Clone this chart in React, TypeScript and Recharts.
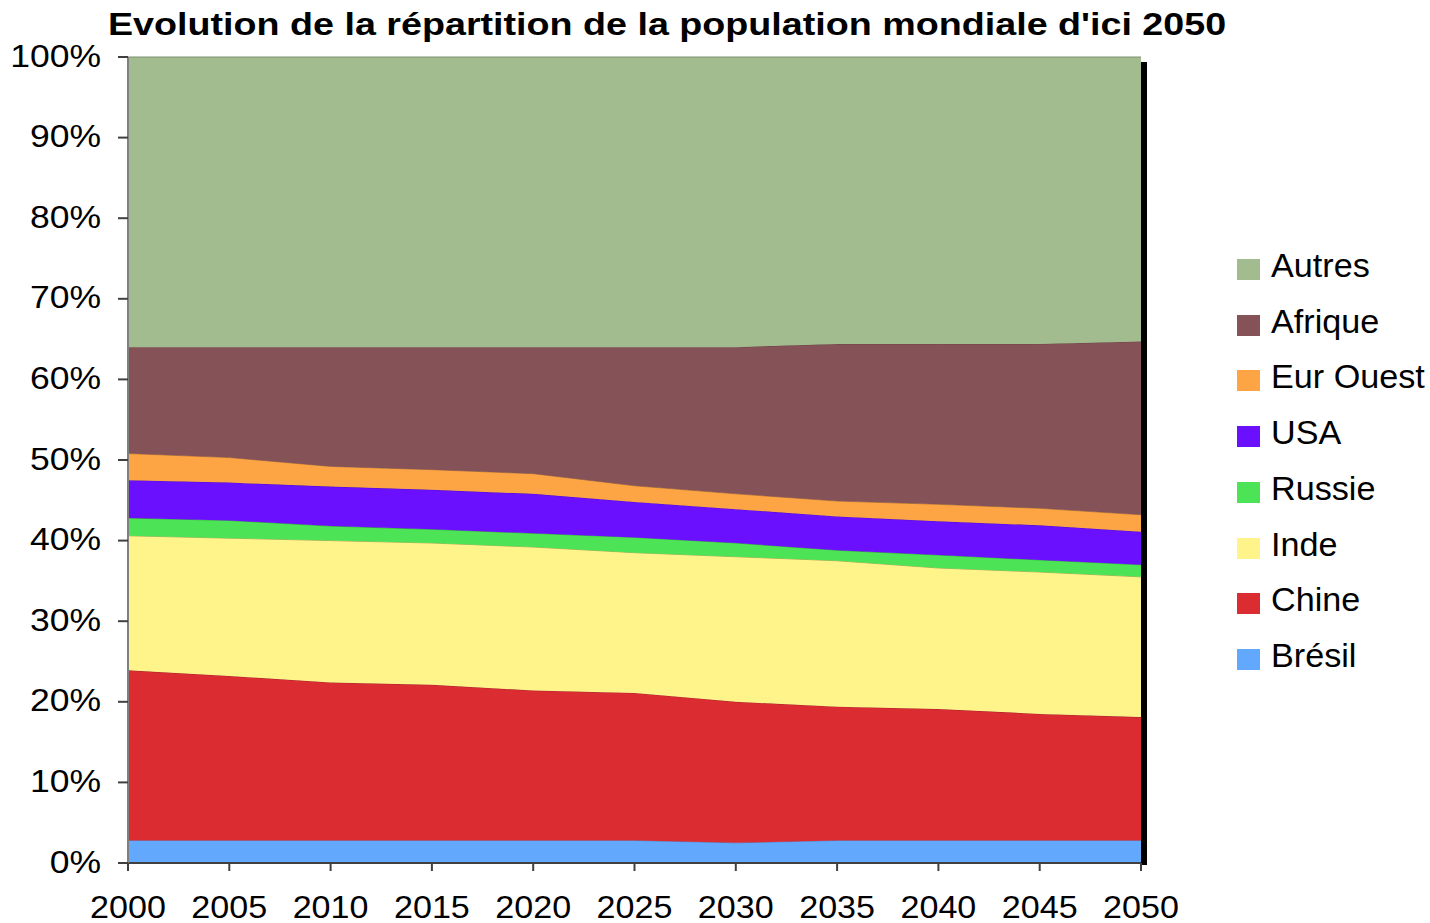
import React from 'react'
import { Area, AreaChart, Legend, ReferenceLine, XAxis, YAxis } from 'recharts'

const years = [2000, 2005, 2010, 2015, 2020, 2025, 2030, 2035, 2040, 2045, 2050]
const bresil = [2.8, 2.8, 2.8, 2.8, 2.8, 2.8, 2.5, 2.8, 2.8, 2.8, 2.8]
const chine = [21.1, 20.4, 19.6, 19.3, 18.6, 18.3, 17.5, 16.6, 16.3, 15.7, 15.3]
const inde = [16.7, 17.1, 17.6, 17.6, 17.8, 17.4, 18.0, 18.1, 17.5, 17.6, 17.4]
const russie = [2.2, 2.2, 1.8, 1.7, 1.7, 1.9, 1.7, 1.3, 1.6, 1.5, 1.5]
const usa = [4.7, 4.7, 4.9, 4.9, 4.9, 4.4, 4.2, 4.2, 4.2, 4.3, 4.1]
const eurOuest = [3.3, 3.1, 2.5, 2.5, 2.5, 2.0, 1.9, 1.9, 2.1, 2.1, 2.1]
const afrique = [13.2, 13.7, 14.8, 15.2, 15.7, 17.2, 18.2, 19.5, 19.9, 20.4, 21.5]
const autres = [36.0, 36.0, 36.0, 36.0, 36.0, 36.0, 36.0, 35.6, 35.6, 35.6, 35.3]
const yTicks = [0, 10, 20, 30, 40, 50, 60, 70, 80, 90, 100]

const title = "Evolution de la répartition de la population mondiale d'ici 2050"

// stacking order, bottom to top
const series = [
  { key: 'bresil', name: 'Brésil', values: bresil, fill: '#62a8fc', stroke: '#4f86c8' },
  { key: 'chine', name: 'Chine', values: chine, fill: '#db2c32', stroke: '#a8262b' },
  { key: 'inde', name: 'Inde', values: inde, fill: '#fef48a', stroke: '#b8ad5c' },
  { key: 'russie', name: 'Russie', values: russie, fill: '#4ce356', stroke: '#3aa842' },
  { key: 'usa', name: 'USA', values: usa, fill: '#6a10ff', stroke: '#5210c0' },
  { key: 'eurOuest', name: 'Eur Ouest', values: eurOuest, fill: '#fda544', stroke: '#c07c34' },
  { key: 'afrique', name: 'Afrique', values: afrique, fill: '#855357', stroke: '#6a4245' },
  { key: 'autres', name: 'Autres', values: autres, fill: '#a2bc8f', stroke: '#7d8f70' },
]

const data = years.map((year, i) => {
  const row: Record<string, number> = { year }
  series.forEach((s) => {
    row[s.key] = s.values[i]
  })
  return row
})

const FONT = '"Liberation Sans", Arial, sans-serif'

const YTick = ({ x, y, payload }: any) => (
  <text
    x={x}
    y={y}
    dy="0.3em"
    textAnchor="end"
    fontFamily={FONT}
    fontSize={32}
    fill="#000"
    transform={`translate(${x} ${y}) scale(1.11 1) translate(${-x} ${-y})`}
  >
    {payload.value}%
  </text>
)

const XTick = ({ x, y, payload }: any) => (
  <text
    x={x}
    y={y}
    dy="0.71em"
    textAnchor="middle"
    fontFamily={FONT}
    fontSize={31}
    fill="#000"
    transform={`translate(${x} ${y}) scale(1.1 1) translate(${-x} ${-y})`}
  >
    {payload.value}
  </text>
)

const LegendBox = () => (
  <div style={{ position: 'relative', width: 190, height: 420 }}>
    {[...series].reverse().map((s, i) => (
      <div key={s.key} style={{ position: 'absolute', left: 0, top: i * 55.7, height: 22 }}>
        <div style={{ position: 'absolute', left: 0, top: 0, width: 23, height: 21, background: s.fill }} />
        <span
          style={{
            position: 'absolute',
            left: 34,
            top: -10,
            fontFamily: FONT,
            fontSize: 33,
            lineHeight: '33px',
            whiteSpace: 'nowrap',
            color: '#000',
            transform: 'scaleX(1.035)',
            transformOrigin: 'left',
          }}
        >
          {s.name}
        </span>
      </div>
    ))}
  </div>
)

const RightEdge = (p: any) => {
  const top = Math.min(p.y1, p.y2)
  const bottom = Math.max(p.y1, p.y2)
  return <rect x={p.x1} y={top + 5} width={6} height={bottom - top - 3} fill="#000" />
}

export default function App() {
  return (
    <div style={{ position: 'absolute', left: 0, top: 0, width: 1430, height: 923, background: '#fff' }}>
      <div
        style={{
          position: 'absolute',
          left: 108,
          top: 9,
          fontFamily: FONT,
          fontWeight: 'bold',
          fontSize: 31,
          lineHeight: '31px',
          whiteSpace: 'nowrap',
          transform: 'scaleX(1.215)',
          transformOrigin: 'left',
          color: '#000',
        }}
      >
        {title}
      </div>
      <AreaChart width={1430} height={923} data={data} margin={{ top: 57, right: 289, bottom: 0, left: 0 }}>
        <XAxis
          dataKey="year"
          type="number"
          domain={[2000, 2050]}
          ticks={years}
          height={60}
          tickSize={8}
          tickMargin={25}
          tick={<XTick />}
          axisLine={{ stroke: '#404040', strokeWidth: 2 }}
          tickLine={{ stroke: '#404040', strokeWidth: 2 }}
          interval={0}
        />
        <YAxis
          type="number"
          domain={[0, 100]}
          ticks={yTicks}
          width={128}
          tickSize={10}
          tickMargin={17}
          tick={<YTick />}
          axisLine={{ stroke: '#808080', strokeWidth: 2 }}
          tickLine={{ stroke: '#404040', strokeWidth: 2 }}
          interval={0}
        />
        {series.map((s) => (
          <Area
            key={s.key}
            type="linear"
            dataKey={s.key}
            name={s.name}
            stackId="pop"
            fill={s.fill}
            fillOpacity={1}
            stroke={s.stroke}
            strokeWidth={1}
            dot={false}
            activeDot={false}
            isAnimationActive={false}
          />
        ))}
        <ReferenceLine x={2050} shape={RightEdge} />
        <Legend
          layout="vertical"
          align="center"
          verticalAlign="middle"
          content={<LegendBox />}
          wrapperStyle={{ left: 1237, top: 259, width: 190, height: 420 }}
        />
      </AreaChart>
    </div>
  )
}
